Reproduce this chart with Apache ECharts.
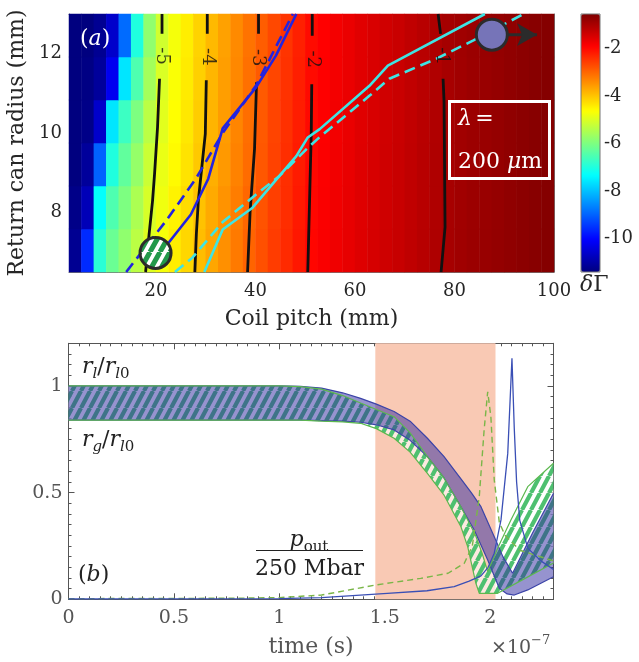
<!DOCTYPE html>
<html>
<head>
<meta charset="utf-8">
<script src="https://cdn.jsdelivr.net/npm/echarts@6/dist/echarts.min.js"></script>
<style>
html, body { margin: 0; padding: 0; background: #fff; }
#main { width: 639px; height: 662px; }
</style>
</head>
<body>
<div id="main"></div>
<script>
// ---------- panel (a): growth map over coil pitch / return can radius ----------
const pitch = [3.75, 6.25, 8.75, 11.25, 13.75, 16.25, 18.75, 21.25, 23.75, 26.25, 28.75, 31.25, 33.75,
    36.25, 38.75, 41.25, 43.75, 46.25, 48.75, 51.25, 53.75, 56.25, 58.75, 61.25, 63.75, 66.25,
    68.75, 71.25, 73.75, 76.25, 78.75, 81.25, 83.75, 86.25, 88.75, 91.25, 93.75, 96.25, 98.75];
const radius = [7.04, 8.13, 9.21, 10.29, 11.38, 12.46];
// one row per radius, one value per pitch cell
const dGamma = [
    [-11.2, -9.6, -6.9, -6.2, -5.8, -5.35, -4.97, -4.72, -4.45, -4.2, -3.93, -3.68, -3.45, -3.22, -2.98, -2.77, -2.56, -2.36, -2.16, -1.97, -1.86, -1.76, -1.66, -1.57, -1.48, -1.4, -1.32, -1.24, -1.15, -1.06, -0.97, -0.91, -0.86, -0.82, -0.78, -0.74, -0.7, -0.66, -0.62],
    [-11.3, -10.8, -7.3, -6.5, -6.0, -5.5, -5.05, -4.78, -4.5, -4.25, -3.98, -3.72, -3.48, -3.25, -3.01, -2.8, -2.59, -2.39, -2.18, -1.98, -1.87, -1.77, -1.67, -1.58, -1.49, -1.41, -1.33, -1.25, -1.16, -1.07, -0.98, -0.92, -0.87, -0.83, -0.79, -0.74, -0.7, -0.66, -0.62],
    [-11.4, -11.1, -9.0, -7.0, -6.3, -5.75, -5.18, -4.85, -4.58, -4.33, -4.05, -3.78, -3.54, -3.3, -3.07, -2.84, -2.62, -2.41, -2.2, -1.99, -1.88, -1.78, -1.68, -1.58, -1.49, -1.41, -1.33, -1.25, -1.16, -1.07, -0.98, -0.92, -0.87, -0.83, -0.79, -0.74, -0.7, -0.66, -0.62],
    [-11.4, -11.3, -10.6, -7.6, -6.7, -6.0, -5.35, -4.93, -4.63, -4.38, -4.1, -3.83, -3.58, -3.33, -3.09, -2.86, -2.64, -2.43, -2.22, -2.01, -1.89, -1.79, -1.69, -1.59, -1.5, -1.42, -1.34, -1.26, -1.17, -1.08, -0.98, -0.92, -0.87, -0.83, -0.79, -0.74, -0.7, -0.66, -0.62],
    [-11.4, -11.35, -11.1, -10.2, -7.6, -6.5, -5.6, -5.02, -4.68, -4.41, -4.13, -3.85, -3.6, -3.36, -3.11, -2.88, -2.66, -2.45, -2.24, -2.02, -1.9, -1.8, -1.7, -1.6, -1.51, -1.42, -1.34, -1.26, -1.17, -1.08, -0.98, -0.92, -0.87, -0.83, -0.79, -0.74, -0.7, -0.66, -0.62],
    [-11.4, -11.4, -11.2, -10.6, -8.9, -7.0, -5.8, -5.12, -4.73, -4.45, -4.16, -3.88, -3.63, -3.39, -3.14, -2.91, -2.68, -2.47, -2.26, -2.03, -1.91, -1.8, -1.7, -1.6, -1.51, -1.42, -1.34, -1.25, -1.16, -1.06, -0.96, -0.91, -0.86, -0.82, -0.78, -0.74, -0.7, -0.66, -0.62]
];

// contour lines (null = gap left for the label)
const contour5 = [[21.2, 13.0], [21.2, 12.5], null, [20.7, 11.37], [20.3, 10.15], [19.7, 8.97], [19.3, 8.3], [18.6, 7.45], [17.9, 6.5]];
const contour4 = [[30.3, 13.0], [30.3, 12.5], null, [30.1, 11.33], [29.9, 9.98], [28.5, 8.3], [28.1, 7.45], [27.8, 6.5]];
const contour3 = [[40.6, 13.0], [40.6, 12.5], null, [40.2, 11.28], [39.8, 9.6], [38.9, 8.0], [38.4, 6.5]];
const contour2 = [[51.4, 13.0], [51.4, 12.45], null, [51.3, 11.23], [51.2, 10.0], [50.9, 8.5], [50.5, 6.5]];
const contour1 = [[76.7, 13.0], [77.2, 12.5], null, [77.7, 11.37], [77.9, 10.8], [78.1, 7.63], [77.3, 6.5]];
const contourLabelText = ['-5', '-4', '-3', '-2', '-1'];
const contourLabelPitch = [21.2, 30.3, 40.5, 51.4, 77.5];
const contourLabelRadius = [11.94, 11.92, 11.9, 11.86, 11.94];

const blueSolid = [[19.9, 6.98], [22.6, 7.25], [27.0, 7.95], [30.5, 8.85], [33.4, 10.12], [40.1, 11.15], [44.1, 11.95], [48.2, 13.0]];
const blueDashed = [[14.0, 6.5], [22.2, 7.82], [28.0, 8.85], [33.4, 10.0], [40.1, 11.2], [47.5, 13.0]];
const cyanSolid = [[29.7, 6.5], [33.4, 7.57], [39.4, 8.12], [44.8, 8.92], [48.2, 9.42], [50.5, 9.89], [52.9, 10.1], [62.9, 11.19], [66.6, 11.7], [86.1, 13.0]];
const cyanDashed = [[23.8, 6.5], [27.3, 6.86], [33.4, 7.76], [40.1, 8.45], [44.8, 8.92], [50.2, 9.59], [52.9, 9.9], [63.0, 10.95], [66.9, 11.37], [76.3, 11.87], [83.7, 12.33], [93.9, 13.0]];
const stripedMarker = [19.9, 6.98];
const purpleMarker = [87.5, 12.48];
const arrowLine = [[87.5, 12.48], [96.6, 12.48]];

// ---------- panel (b): radii and outer pressure vs time (x 1e-7 s) ----------
const blueRl = [[0, 1], [1.0, 1], [1.1, 0.998], [1.2, 0.99], [1.3, 0.968], [1.385, 0.942], [1.46, 0.915], [1.544, 0.88], [1.62, 0.835], [1.702, 0.755], [1.78, 0.67], [1.861, 0.565], [1.91, 0.5], [1.956, 0.434], [2.019, 0.293], [2.06, 0.2], [2.106, 0.122], [2.2, 0.31], [2.3, 0.497]];
const blueRg = [[0, 0.84], [1.1, 0.84], [1.2, 0.838], [1.3, 0.835], [1.385, 0.83], [1.46, 0.818], [1.544, 0.794], [1.62, 0.745], [1.702, 0.669], [1.78, 0.57], [1.861, 0.434], [1.924, 0.325], [1.988, 0.184], [2.043, 0.052], [2.08, 0.025], [2.114, 0.02], [2.178, 0.044], [2.3, 0.106]];
const greenRl = [[0, 1], [1.0, 1], [1.1, 0.997], [1.2, 0.985], [1.3, 0.955], [1.385, 0.92], [1.46, 0.89], [1.544, 0.856], [1.62, 0.78], [1.702, 0.669], [1.78, 0.57], [1.861, 0.434], [1.93, 0.3], [1.96, 0.22], [1.988, 0.13], [2.04, 0.25], [2.098, 0.372], [2.178, 0.528], [2.3, 0.638]];
const greenRg = [[0, 0.84], [1.1, 0.84], [1.2, 0.835], [1.3, 0.832], [1.385, 0.825], [1.46, 0.8], [1.544, 0.755], [1.62, 0.69], [1.702, 0.59], [1.78, 0.49], [1.861, 0.34], [1.893, 0.247], [1.932, 0.075], [1.948, 0.028], [2.035, 0.028], [2.15, 0.09], [2.3, 0.17]];
const pOutBlue = [[0, 0.002], [1.0, 0.003], [1.2, 0.008], [1.512, 0.028], [1.7, 0.04], [1.829, 0.059], [1.9, 0.085], [1.956, 0.11], [1.99, 0.15], [2.019, 0.216], [2.051, 0.372], [2.083, 0.684], [2.103, 1.13], [2.114, 0.8], [2.125, 0.55], [2.14, 0.37], [2.178, 0.24], [2.24, 0.18], [2.3, 0.14]];
const pOutGreen = [[0, 0.003], [0.8, 0.005], [1.0, 0.008], [1.2, 0.02], [1.457, 0.067], [1.67, 0.098], [1.8, 0.122], [1.877, 0.169], [1.915, 0.25], [1.948, 0.481], [1.971, 0.794], [1.988, 0.973], [2.003, 0.856], [2.019, 0.56], [2.043, 0.36], [2.07, 0.3], [2.14, 0.23], [2.3, 0.18]];
const stagnationWindow = [1.455, 2.025];

const SERIF = '"DejaVu Serif", serif';
const jet = ['#00007f', '#0000ff', '#007fff', '#00ffff', '#7fff7f', '#ffff00', '#ff7f00', '#ff0000', '#7f0000'];

// diagonal hatch tile
function stripes(w, h, lw, fg, bg) {
    const c = document.createElement('canvas');
    c.width = w;
    c.height = h;
    const ctx = c.getContext('2d');
    if (bg) {
        ctx.fillStyle = bg;
        ctx.fillRect(0, 0, w, h);
    }
    ctx.strokeStyle = fg;
    ctx.lineWidth = lw;
    ctx.beginPath();
    [-w, 0, w].forEach(dx => {
        ctx.moveTo(dx, h);
        ctx.lineTo(dx + w, 0);
    });
    ctx.stroke();
    return c;
}
const greenHatch = { image: stripes(9, 17, 4.2, 'rgb(78,192,112)', 'rgba(255,255,255,0.6)'), repeat: 'repeat' };
const markerHatch = { image: stripes(10, 18, 5, '#22994a', '#ffffff'), repeat: 'repeat' };

function rich(c) {
    return {
        n: { fontFamily: SERIF, fontSize: 22, fill: c },
        i: { fontFamily: SERIF, fontSize: 22, fontStyle: 'italic', fill: c },
        si: { fontFamily: SERIF, fontSize: 15, fontStyle: 'italic', fill: c, padding: [14, 0, 0, 0] },
        su: { fontFamily: SERIF, fontSize: 15, fill: c, padding: [14, 0, 0, 0] },
        sup: { fontFamily: SERIF, fontSize: 13, fill: c, padding: [0, 0, 14, 0] }
    };
}

const cells = [];
radius.forEach((r, j) => {
    pitch.forEach((p, i) => {
        cells.push([i, j, dGamma[j][i]]);
    });
});

function gapData(pts) {
    return pts.map(p => (p ? p : ['-', '-']));
}

function topLine(data, color, dashed) {
    return {
        type: 'line', xAxisIndex: 1, yAxisIndex: 1, data: data, symbol: 'none', z: 4,
        lineStyle: { color: color, width: 2.6, type: dashed ? [11, 6] : 'solid' }
    };
}
function contourLine(data) {
    return {
        type: 'line', xAxisIndex: 1, yAxisIndex: 1, data: gapData(data), symbol: 'none', z: 3,
        connectNulls: false, lineStyle: { color: '#111', width: 2.8 }
    };
}
// round marker drawn at true pixel size so the hatch is not scaled
function marker(point, fill) {
    return {
        type: 'custom', xAxisIndex: 1, yAxisIndex: 1, z: 7, silent: true,
        data: [point],
        renderItem: function (params, api) {
            const c = api.coord([api.value(0), api.value(1)]);
            return {
                type: 'circle', shape: { cx: c[0], cy: c[1], r: 15.5 },
                style: { fill: fill, stroke: '#2b2b2b', lineWidth: 3 }
            };
        }
    };
}
function band(upper, lower, fill, z) {
    return {
        type: 'custom', xAxisIndex: 4, yAxisIndex: 4, z: z, silent: true,
        data: [[0, 0]],
        renderItem: function (params, api) {
            const pts = upper.map(p => api.coord(p)).concat(lower.slice().reverse().map(p => api.coord(p)));
            return { type: 'polygon', shape: { points: pts }, style: { fill: fill } };
        }
    };
}
function bottomLine(data, color, width, dashed, z) {
    return {
        type: 'line', xAxisIndex: 4, yAxisIndex: 4, data: data, symbol: 'none', z: z,
        lineStyle: { color: color, width: width, type: dashed ? [6, 4] : 'solid' }
    };
}

const topLabel = { color: '#262626', fontFamily: SERIF, fontSize: 18 };
const botLabel = { color: '#555', fontFamily: SERIF, fontSize: 19 };
const botTick = { show: true, inside: true, length: 6, lineStyle: { color: '#555' } };
const botMinor = { show: true, splitNumber: 10, length: 3, lineStyle: { color: '#555' } };

const option = {
    animation: false,
    backgroundColor: '#fff',
    grid: [
        { left: 69, top: 14, width: 485, height: 258, outerBoundsMode: 'none' },
        { left: 69, top: 14, width: 485, height: 258, outerBoundsMode: 'none' },
        { left: 581, top: 14, width: 19, height: 258, show: true, borderColor: '#777', borderWidth: 1, z: 10, outerBoundsMode: 'none' },
        { left: 68.5, top: 343.3, width: 485, height: 256, outerBoundsMode: 'none' }
    ],
    xAxis: [
        { gridIndex: 0, type: 'category', data: pitch.map(String), show: false },
        {
            gridIndex: 1, type: 'value', min: 2.5, max: 100, splitNumber: 5,
            axisLine: { show: true, onZero: false, lineStyle: { color: '#777' } },
            axisTick: { show: false }, splitLine: { show: false },
            axisLabel: Object.assign({ showMinLabel: false, margin: 10 }, topLabel),
            name: 'Coil pitch (mm)', nameLocation: 'middle', nameGap: 36,
            nameTextStyle: { color: '#262626', fontFamily: SERIF, fontSize: 22 }
        },
        {
            gridIndex: 1, type: 'value', position: 'top', min: 2.5, max: 100,
            axisLine: { show: true, onZero: false, lineStyle: { color: '#777' } },
            axisTick: { show: false }, axisLabel: { show: false }, splitLine: { show: false }
        },
        { gridIndex: 2, type: 'category', data: ['c'], show: false },
        {
            gridIndex: 3, type: 'value', min: 0, max: 2.3, interval: 0.5,
            axisLine: { show: true, onZero: false, lineStyle: { color: '#555' } },
            axisTick: botTick, minorTick: botMinor, splitLine: { show: false },
            axisLabel: Object.assign({ showMaxLabel: false, margin: 9 }, botLabel),
            name: 'time (s)', nameLocation: 'middle', nameGap: 37,
            nameTextStyle: { color: '#555', fontFamily: SERIF, fontSize: 22 }
        },
        {
            gridIndex: 3, type: 'value', position: 'top', min: 0, max: 2.3, interval: 0.5,
            axisLine: { show: true, onZero: false, lineStyle: { color: '#555' } },
            axisTick: botTick, minorTick: botMinor, splitLine: { show: false }, axisLabel: { show: false }
        }
    ],
    yAxis: [
        { gridIndex: 0, type: 'category', data: radius.map(String), show: false },
        {
            gridIndex: 1, type: 'value', min: 6.5, max: 13, splitNumber: 3,
            axisLine: { show: true, onZero: false, lineStyle: { color: '#777' } },
            axisTick: { show: false }, splitLine: { show: false },
            axisLabel: Object.assign({ showMinLabel: false, showMaxLabel: false, margin: 7 }, topLabel),
            name: 'Return can radius (mm)', nameLocation: 'middle', nameGap: 31, nameRotate: 90,
            nameTextStyle: { color: '#262626', fontFamily: SERIF, fontSize: 22 }
        },
        {
            gridIndex: 1, type: 'value', position: 'right', min: 6.5, max: 13,
            axisLine: { show: true, onZero: false, lineStyle: { color: '#777' } },
            axisTick: { show: false }, axisLabel: { show: false }, splitLine: { show: false }
        },
        {
            gridIndex: 2, type: 'value', position: 'right', min: -11.4, max: -0.56,
            axisLine: { show: false }, splitLine: { show: false },
            axisTick: { show: true, inside: true, length: 3, lineStyle: { color: '#777' } },
            axisLabel: Object.assign({ showMinLabel: false, showMaxLabel: false, margin: 4 }, topLabel)
        },
        {
            gridIndex: 3, type: 'value', min: 0, max: 1.2, interval: 0.5,
            axisLine: { show: true, onZero: false, lineStyle: { color: '#555' } },
            axisTick: botTick, minorTick: botMinor, splitLine: { show: false },
            axisLabel: Object.assign({ showMaxLabel: false, margin: 6 }, botLabel)
        },
        {
            gridIndex: 3, type: 'value', position: 'right', min: 0, max: 1.2, interval: 0.5,
            axisLine: { show: true, onZero: false, lineStyle: { color: '#555' } },
            axisTick: botTick, minorTick: botMinor, splitLine: { show: false }, axisLabel: { show: false }
        }
    ],
    visualMap: {
        type: 'continuous', seriesIndex: 0, dimension: 2, min: -11.4, max: -0.56,
        orient: 'vertical', left: 581, top: 14, itemWidth: 19, itemHeight: 258, padding: 0,
        calculable: false, hoverLink: false, inRange: { color: jet }
    },
    series: [
        { type: 'heatmap', xAxisIndex: 0, yAxisIndex: 0, data: cells, z: 1, silent: true },
        contourLine(contour5),
        contourLine(contour4),
        contourLine(contour3),
        contourLine(contour2),
        contourLine(contour1),
        {
            type: 'scatter', xAxisIndex: 1, yAxisIndex: 1, z: 5, symbolSize: 2, silent: true,
            itemStyle: { color: 'rgba(0,0,0,0)' },
            data: contourLabelText.map((t, i) => ({ name: t, value: [contourLabelPitch[i], contourLabelRadius[i]] })),
            label: { show: true, position: 'inside', rotate: -90, formatter: '{b}', color: '#111', fontFamily: SERIF, fontSize: 18 }
        },
        topLine(blueDashed, '#2323e0', true),
        topLine(blueSolid, '#2323e0', false),
        topLine(cyanDashed, '#3ee4e4', true),
        topLine(cyanSolid, '#3ee4e4', false),
        {
            type: 'line', xAxisIndex: 1, yAxisIndex: 1, data: arrowLine, z: 6,
            symbol: (v, p) => (p.dataIndex === 1 ? 'arrow' : 'none'), symbolRotate: -90, symbolSize: [17, 20],
            itemStyle: { color: '#2b2b2b' }, lineStyle: { color: '#2b2b2b', width: 3 }
        },
        marker(stripedMarker, markerHatch),
        marker(purpleMarker, '#7674b8'),
        // panel (b)
        {
            type: 'line', xAxisIndex: 4, yAxisIndex: 4, data: [], z: 1, silent: true,
            markArea: {
                silent: true, itemStyle: { color: '#f9c9b4' },
                data: [[{ xAxis: stagnationWindow[0] }, { xAxis: stagnationWindow[1] }]]
            }
        },
        band(greenRl, greenRg, greenHatch, 2),
        band(blueRl, blueRg, 'rgba(45,39,159,0.5)', 3),
        bottomLine(blueRl, '#3c44a8', 1.2, false, 4),
        bottomLine(blueRg, '#3c44a8', 1.2, false, 4),
        bottomLine(greenRl, '#5cb84e', 1.2, false, 5),
        bottomLine(greenRg, '#5cb84e', 1.2, false, 5),
        bottomLine(pOutGreen, '#7ab648', 1.4, true, 6),
        bottomLine(pOutBlue, '#3a4fb5', 1.3, false, 6)
    ],
    graphic: [
        { type: 'text', x: 80, y: 39, z: 100, style: { text: '{n|(}{i|a}{n|)}', verticalAlign: 'middle', rich: rich('#fff') } },
        { type: 'rect', z: 100, shape: { x: 449.5, y: 101.5, width: 100, height: 77 }, style: { fill: 'none', stroke: '#fff', lineWidth: 3 } },
        { type: 'text', x: 458, y: 119, z: 100, style: { text: '{i|λ} {n|=}', verticalAlign: 'middle', rich: rich('#fff') } },
        { type: 'text', x: 458, y: 162, z: 100, style: { text: '{n|200 }{i|μ}{n|m}', verticalAlign: 'middle', rich: rich('#fff') } },
        { type: 'text', x: 580, y: 285, z: 100, style: { text: '{i|δ}{n|Γ}', verticalAlign: 'middle', rich: rich('#262626') } },
        { type: 'text', x: 82, y: 367, z: 100, style: { text: '{i|r}{si|l}{n|/}{i|r}{si|l}{su|0}', verticalAlign: 'middle', rich: rich('#222') } },
        { type: 'text', x: 82, y: 440, z: 100, style: { text: '{i|r}{si|g}{n|/}{i|r}{si|l}{su|0}', verticalAlign: 'middle', rich: rich('#222') } },
        { type: 'text', x: 78, y: 575, z: 100, style: { text: '{n|(}{i|b}{n|)}', verticalAlign: 'middle', rich: rich('#222') } },
        { type: 'text', x: 309, y: 540, z: 100, style: { text: '{i|p}{su|out}', align: 'center', verticalAlign: 'middle', rich: rich('#222') } },
        { type: 'line', z: 100, shape: { x1: 256, y1: 550.5, x2: 363, y2: 550.5 }, style: { stroke: '#222', lineWidth: 1 } },
        { type: 'text', x: 309.5, y: 569, z: 100, style: { text: '{n|250 Mbar}', align: 'center', verticalAlign: 'middle', rich: rich('#222') } },
        { type: 'text', x: 491, y: 648, z: 100, style: { text: '{m|×10}{sup|−7}', verticalAlign: 'middle', rich: Object.assign(rich('#555'), { m: { fontFamily: SERIF, fontSize: 19, fill: '#555' } }) } }
    ]
};

const chart = echarts.init(document.getElementById('main'), null, { renderer: 'canvas' });
chart.setOption(option);
</script>
</body>
</html>
